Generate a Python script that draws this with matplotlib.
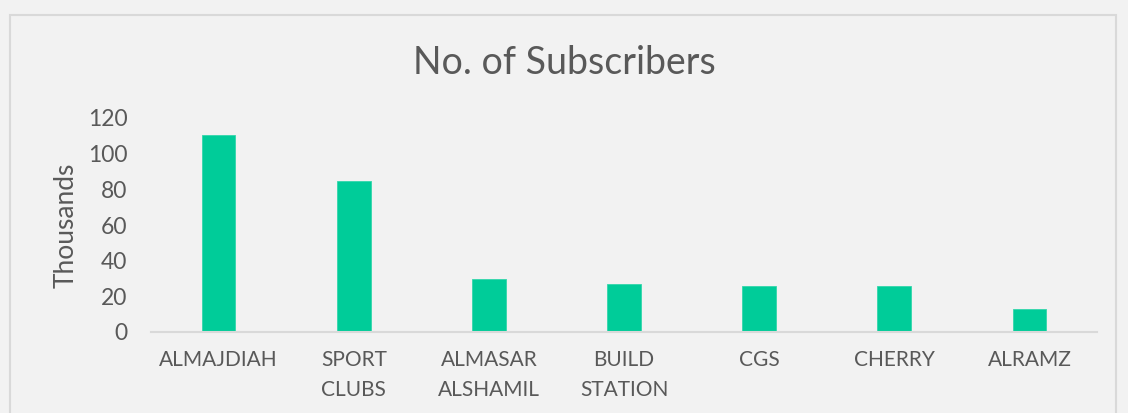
import matplotlib
matplotlib.use("Agg")
import matplotlib.pyplot as plt
from matplotlib.patches import Rectangle

categories = ["ALMAJDIAH", "SPORT\nCLUBS", "ALMASAR\nALSHAMIL", "BUILD\nSTATION", "CGS", "CHERRY", "ALRAMZ"]
values = [110.5, 84.5, 29.7, 26.7, 25.8, 25.8, 12.7]
yticks = [0, 20, 40, 60, 80, 100, 120]

W, H = 1128, 413
fig = plt.figure(figsize=(W / 100, H / 100), dpi=100)
fig.patch.set_facecolor("#f2f2f2")
plt.rcParams["font.family"] = ["Lato", "DejaVu Sans"]

# chart border
fig.patches.append(Rectangle((10 / W, -0.05), (1116 - 10) / W, (H - 15) / H + 0.05,
                             transform=fig.transFigure, fill=False,
                             edgecolor="#d9d9d9", linewidth=1.5))

ax = fig.add_axes([151 / W, 1 - 332 / H, (1097 - 151) / W, (332 - 118) / H])
ax.set_facecolor("#f2f2f2")
x = range(len(categories))
ax.bar(x, values, width=0.25, color="#00cc99", edgecolor="#33d6ab", linewidth=0.6)
ax.set_xlim(-0.5, len(categories) - 0.5)
ax.set_ylim(0, 120)
ax.set_yticks(yticks)
ax.set_xticks(list(x))
ax.set_xticklabels(categories, fontsize=15, color="#595959", linespacing=1.62)
ax.tick_params(axis="y", labelsize=16.5, labelcolor="#595959", length=0, pad=17)
ax.tick_params(axis="x", length=0, pad=13)
for s in ["top", "right", "left"]:
    ax.spines[s].set_visible(False)
ax.spines["bottom"].set_color("#d9d9d9")
ax.spines["bottom"].set_linewidth(1.5)
ax.set_ylabel("Thousands", fontsize=19, color="#595959")
ax.yaxis.set_label_coords((79 - 151) / 946, 0.5)
fig.text(0.5, 1 - 63 / H, "No. of Subscribers", ha="center", va="center",
         fontsize=27, color="#595959")

fig.savefig("out.png", dpi=100, facecolor=fig.get_facecolor())
